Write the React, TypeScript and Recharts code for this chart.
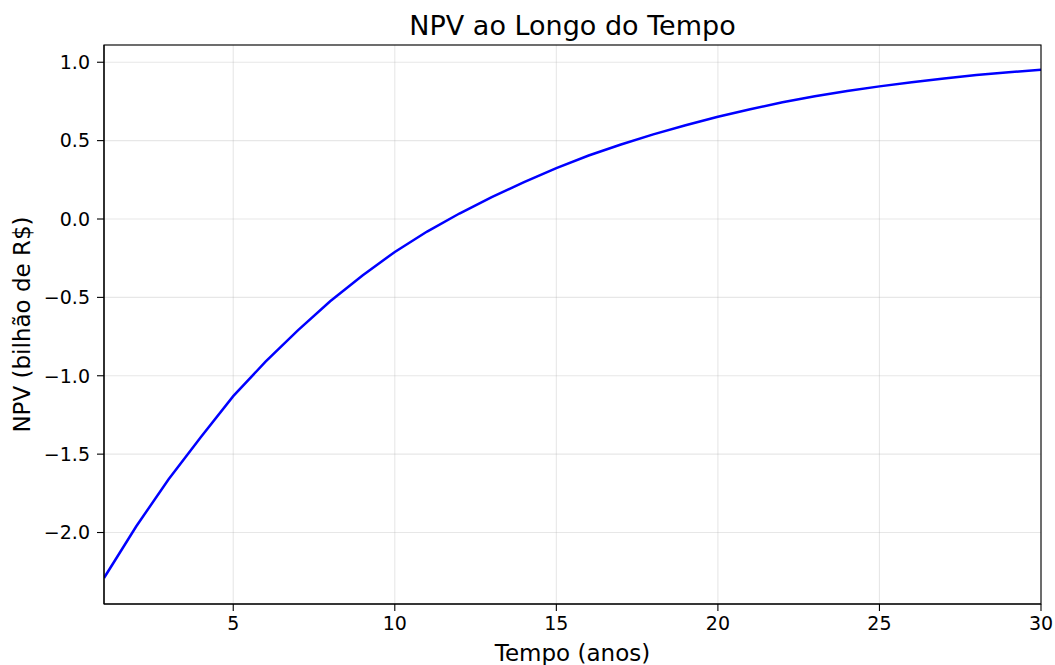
import React from "react";
import { LineChart, Line, XAxis, YAxis, CartesianGrid } from "recharts";

// anos e NPV (bilhão de R$)
const years = [1, 2, 3, 4, 5, 6, 7, 8, 9, 10, 11, 12, 13, 14, 15, 16, 17, 18, 19, 20, 21, 22, 23, 24, 25, 26, 27, 28, 29, 30];
const npv = [
  -2.29, -1.96, -1.66, -1.39, -1.13, -0.91, -0.71, -0.525, -0.36, -0.21,
  -0.08, 0.035, 0.14, 0.235, 0.325, 0.405, 0.475, 0.54, 0.598, 0.652,
  0.7, 0.745, 0.783, 0.816, 0.846, 0.873, 0.897, 0.918, 0.936, 0.952,
];
const xTicks = [5, 10, 15, 20, 25, 30];
const yTicks = [-2.0, -1.5, -1.0, -0.5, 0.0, 0.5, 1.0];

const data = years.map((t, i) => ({ t, npv: npv[i] }));

const W = 1055;
const H = 665;
const M = { top: 45, right: 14, bottom: 26, left: 24 };
const Y_W = 80;
const X_H = 35;
const FONT = "'DejaVu Sans', sans-serif";
const tickStyle = { fontSize: 19, fill: "#000", fontFamily: FONT };
const fmtY = (v: number) => v.toFixed(1).replace("-", "\u2212");

export default function App() {
  const plotX = M.left + Y_W;
  const plotY = M.top;
  const plotW = W - M.right - plotX;
  const plotH = H - M.bottom - X_H - plotY;
  return (
    <div style={{ position: "absolute", left: 0, top: 0, width: W, height: H, background: "#fff" }}>
      <LineChart width={W} height={H} data={data} margin={M}>
        <CartesianGrid stroke="#b0b0b0" strokeOpacity={0.3} strokeWidth={1.1} />
        <XAxis
          dataKey="t"
          type="number"
          domain={[1, 30]}
          ticks={xTicks}
          allowDataOverflow
          height={X_H}
          tickSize={7}
          tickMargin={6}
          tick={tickStyle}
          tickLine={{ stroke: "#000", strokeWidth: 1.1 }}
          axisLine={{ stroke: "#000", strokeWidth: 1.1 }}
        />
        <YAxis
          type="number"
          domain={[-2.456, 1.11]}
          ticks={yTicks}
          allowDataOverflow
          width={Y_W}
          tickSize={7}
          tickMargin={7}
          tick={tickStyle}
          tickFormatter={fmtY}
          tickLine={{ stroke: "#000", strokeWidth: 1.1 }}
          axisLine={{ stroke: "#000", strokeWidth: 1.1 }}
        />
        <Line
          type="linear"
          dataKey="npv"
          stroke="#0000ff"
          strokeWidth={2.5}
          dot={false}
          isAnimationActive={false}
        />
      </LineChart>
      <svg width={W} height={H} style={{ position: "absolute", left: 0, top: 0, pointerEvents: "none" }}>
        <rect x={plotX} y={plotY} width={plotW} height={plotH} fill="none" stroke="#000" strokeWidth={1.1} />
        <text x={plotX + plotW / 2} y={35} textAnchor="middle" fontSize={27} fontFamily={FONT} fill="#000">
          NPV ao Longo do Tempo
        </text>
        <text x={plotX + plotW / 2} y={661} textAnchor="middle" fontSize={23} fontFamily={FONT} fill="#000">
          Tempo (anos)
        </text>
        <text
          x={22}
          y={plotY + plotH / 2}
          transform={`rotate(-90 22 ${plotY + plotH / 2})`}
          textAnchor="middle"
          dominantBaseline="central"
          fontSize={23}
          fontFamily={FONT}
          fill="#000"
        >
          NPV (bilhão de R$)
        </text>
      </svg>
    </div>
  );
}
